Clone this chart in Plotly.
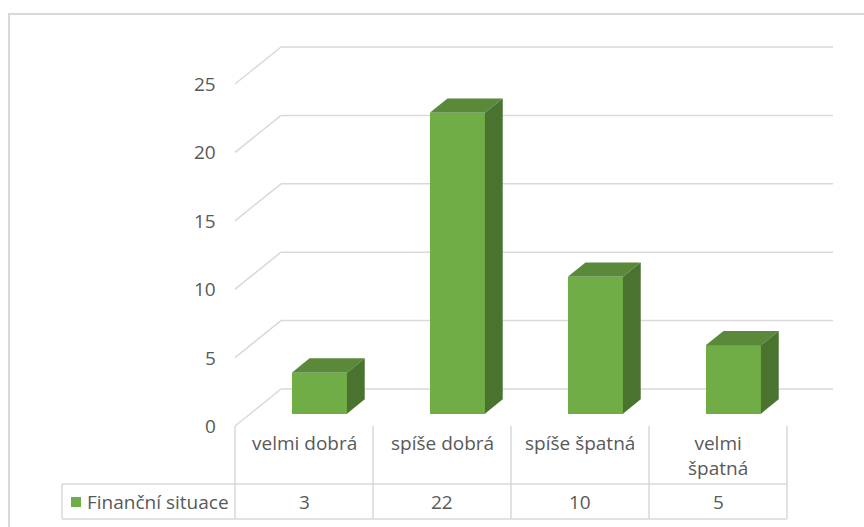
import plotly.graph_objects as go

# Data
categories = ["velmi dobrá", "spíše dobrá", "spíše špatná", "velmi<br>špatná"]
values = [3, 22, 10, 5]
series_name = "Finanční situace"
tick_values = [0, 5, 10, 15, 20, 25]

# Colours
FRONT = "#70AD47"
TOP = "#5A8A39"
SIDE = "#49732E"
GRID = "#D9D9D9"
TEXT = "#595959"
FONT = "Open Sans"

# Geometry: one x unit = one category column, one y unit = one value unit
W, H = 864, 527
PX_COL = 138.0          # pixels per category column
PX_UNIT = 13.68         # pixels per value unit
X0_PX, Y0_PX = 235.0, 426.0   # front-left floor corner


def xv(px):
    return (px - X0_PX) / PX_COL


def yv(py):
    return (Y0_PX - py) / PX_UNIT


# oblique depth projection (full depth of the floor)
DX = 46.0 / PX_COL
DY = 37.0 / PX_UNIT
D_FRONT, D_BACK = 1 / 3, 0.72   # bar depth span
BAR_W = 0.4
n = len(categories)

fig = go.Figure()

shapes = []
# back wall and side wall gridlines
for t in tick_values:
    shapes.append(dict(type="line", xref="x", yref="y", x0=0, y0=t, x1=DX, y1=t + DY,
                       line=dict(color=GRID, width=1.5), layer="below"))
    shapes.append(dict(type="line", xref="x", yref="y", x0=DX, y0=t + DY, x1=n + DX, y1=t + DY,
                       line=dict(color=GRID, width=1.5), layer="below"))

# data table grid
row_sep = yv(484)
table_bottom = yv(519)
legend_left = xv(62)
for i in range(n + 1):
    shapes.append(dict(type="line", xref="x", yref="y", x0=i, y0=0, x1=i, y1=table_bottom,
                       line=dict(color=GRID, width=1.5)))
for yy in (row_sep, table_bottom):
    shapes.append(dict(type="line", xref="x", yref="y", x0=legend_left, y0=yy, x1=n, y1=yy,
                       line=dict(color=GRID, width=1.5)))
shapes.append(dict(type="line", xref="x", yref="y", x0=legend_left, y0=row_sep, x1=legend_left,
                   y1=table_bottom, line=dict(color=GRID, width=1.5)))

# chart area border
shapes.append(dict(type="rect", xref="paper", yref="paper", x0=9 / W, y0=-0.05, x1=1.05,
                   y1=1 - 14 / H, line=dict(color=GRID, width=2)))

# bars: front faces
base = D_FRONT * DY
centers = [i + 0.5 + D_FRONT * DX for i in range(n)]
fig.add_trace(go.Bar(x=centers, y=values, base=[base] * n, width=BAR_W,
                     marker=dict(color=FRONT, line=dict(width=0)),
                     hoverinfo="skip", showlegend=False))

# bars: top and side faces
ddx = (D_BACK - D_FRONT) * DX
ddy = (D_BACK - D_FRONT) * DY
for c, v in zip(centers, values):
    xl, xr = c - BAR_W / 2, c + BAR_W / 2
    top = base + v
    fig.add_trace(go.Scatter(
        x=[xl, xr, xr + ddx, xl + ddx, xl], y=[top, top, top + ddy, top + ddy, top],
        fill="toself", fillcolor=TOP, mode="lines", line=dict(width=0, color=TOP),
        hoverinfo="skip", showlegend=False))
    fig.add_trace(go.Scatter(
        x=[xr, xr, xr + ddx, xr + ddx, xr], y=[base, top, top + ddy, base + ddy, base],
        fill="toself", fillcolor=SIDE, mode="lines", line=dict(width=0, color=SIDE),
        hoverinfo="skip", showlegend=False))

# legend key in the table
fig.add_trace(go.Scatter(x=[xv(76)], y=[yv(502)], mode="markers",
                         marker=dict(symbol="square", size=10, color=FRONT),
                         hoverinfo="skip", showlegend=False))

annotations = []
font = dict(family=FONT, size=19, color=TEXT)
for t in tick_values:
    annotations.append(dict(x=xv(218), y=t, xref="x", yref="y", text=str(t), showarrow=False,
                            xanchor="right", yanchor="middle", font=font))
for i, (cat, v) in enumerate(zip(categories, values)):
    annotations.append(dict(x=i + 0.5, y=yv(428), xref="x", yref="y", text=cat, showarrow=False,
                            xanchor="center", yanchor="top", font=font))
    annotations.append(dict(x=i + 0.5, y=yv(502), xref="x", yref="y", text=str(v),
                            showarrow=False, xanchor="center", yanchor="middle", font=font))
annotations.append(dict(x=xv(85), y=yv(502), xref="x", yref="y", text=series_name,
                        showarrow=False, xanchor="left", yanchor="middle", font=font))

fig.update_layout(
    width=W, height=H,
    margin=dict(l=0, r=0, t=0, b=0),
    paper_bgcolor="white", plot_bgcolor="white",
    xaxis=dict(range=[xv(0), xv(W)], visible=False, fixedrange=True),
    yaxis=dict(range=[yv(H), yv(0)], visible=False, fixedrange=True),
    shapes=shapes, annotations=annotations,
    bargap=0, showlegend=False,
)

fig.write_html("out.html")
